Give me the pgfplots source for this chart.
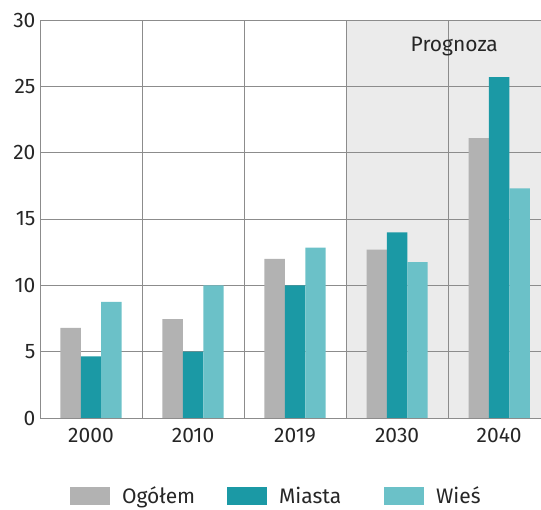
\documentclass[border=0pt]{standalone}
\usepackage{fontspec}
\setmainfont{Fira Sans}
\usepackage{pgfplots}
\pgfplotsset{compat=1.18}

\definecolor{ogolem}{HTML}{B2B2B2}
\definecolor{miasta}{HTML}{1B99A5}
\definecolor{wies}{HTML}{6BC1C8}
\definecolor{prog}{HTML}{EBEBEB}
\definecolor{gridc}{HTML}{8C8C8C}

\newcommand\chartfont{\fontsize{21}{24}\selectfont}

\begin{document}
\begin{tikzpicture}
\begin{axis}[
    set layers,
    scale only axis,
    at={(40pt,91pt)}, anchor=south west,
    width=501pt, height=398pt,
    xmin=-0.5, xmax=4.41,
    ymin=0, ymax=30,
    ytick={0,5,...,30},
    xtick=data,
    xticklabels={2000,2010,2019,2030,2040},
    minor xtick={0.5,1.5,2.5,3.5},
    xminorgrids, ymajorgrids,
    grid style={gridc, line width=0.8pt},
    minor grid style={gridc, line width=0.8pt},
    axis x line=bottom, axis y line=left,
    axis line style={gridc, line width=0.8pt, -},
    major tick length=0pt, minor tick length=0pt,
    tick label style={font=\chartfont, text=black!85},
    /pgf/number format/assume math mode=true,
    xticklabel style={yshift=-7pt},
    yticklabel style={xshift=-1pt},
    ybar, bar width=0.2,
    legend columns=3,
    legend style={at={(axis description cs:0.06,-0.1955)}, anchor=west,
        draw=none, fill=none, inner sep=0pt, outer sep=0pt,
        font=\chartfont, text=black!85,
        /tikz/every odd column/.append style={column sep=11pt},
        nodes={text width=104pt, align=left, inner sep=1pt}},
    legend image code/.code={\fill[#1] (0pt,-9pt) rectangle (40pt,9pt);},
]
\begin{pgfonlayer}{axis background}
\fill[prog] (axis cs:2.5,0) rectangle (axis cs:4.41,30);
\end{pgfonlayer}

\addplot[fill=ogolem, draw=none, bar shift=-0.2] coordinates {
    (0,6.8) (1,7.45) (2,12.0) (3,12.7) (4,21.1)};
\addlegendentry{Ogółem}
\addplot[fill=miasta, draw=none, bar shift=0] coordinates {
    (0,4.65) (1,5.0) (2,10.0) (3,14.0) (4,25.7)};
\addlegendentry{Miasta}
\addplot[fill=wies, draw=none, bar shift=0.2] coordinates {
    (0,8.75) (1,10.0) (2,12.85) (3,11.75) (4,17.3)};
\addlegendentry{Wieś}

\node[anchor=base, font=\chartfont, text=black!85] at (axis cs:3.56,27.6) {Prognoza};
\end{axis}
\pgfresetboundingbox
\useasboundingbox (0pt,0pt) rectangle (541pt,509pt);
\end{tikzpicture}
\end{document}
